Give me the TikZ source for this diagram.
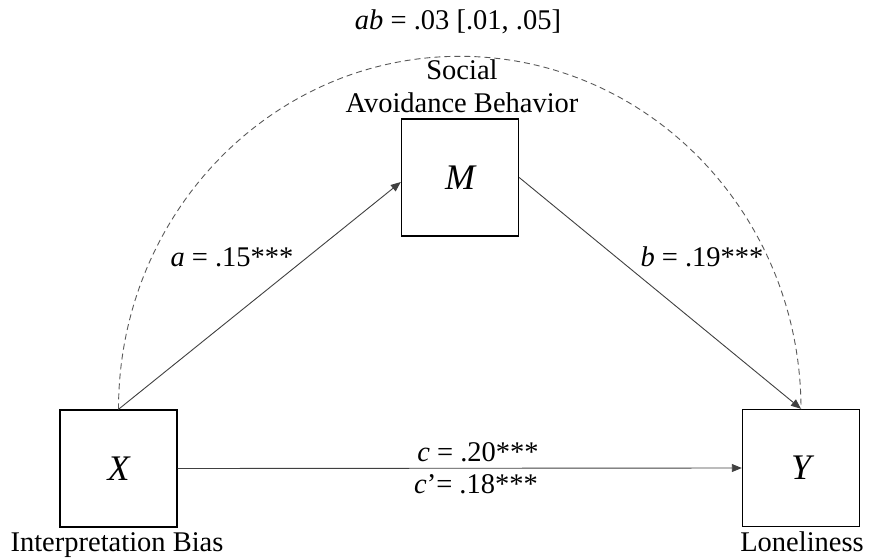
\documentclass[tikz,border=0pt]{standalone}
\usepackage{fontspec}
\setmainfont{Liberation Serif}
\usetikzlibrary{arrows.meta}
\begin{document}
\begin{tikzpicture}[x=1pt,y=-1pt,
  var/.style={draw=black, line width=1.4pt, minimum width=117pt, minimum height=117pt, inner sep=0pt, font=\fontsize{36}{40}\selectfont\itshape},
  lbl/.style={font=\fontsize{28.5}{33}\selectfont, inner sep=0pt, align=center},
  conn/.style={draw=black!75, line width=0.9pt, -{Triangle[length=10pt,width=8pt]}},
  dashline/.style={draw=black!65, line width=0.9pt, dash pattern=on 6pt off 4pt}
]
\useasboundingbox (0,0) rectangle (872,559);
\node[var] (X) at (118.5,468.5) {X};
\node[var] (M) at (460,177.5) {M};
\node[var] (Y) at (801,468) {Y};
\node[lbl] (xl) at (117,545) {Interpretation Bias};
\node[lbl] (yl) at (802,542) {Loneliness};
\node[lbl] (ml) at (462,86) {Social\\Avoidance Behavior};
\node[lbl] (ab) at (458,22) {\textit{ab} = .03 [.01, .05]};
\node[lbl] (la) at (232,257) {\textit{a} = .15***};
\node[lbl] (lb) at (702,257) {\textit{b} = .19***};
\node[lbl] (lc) at (478,452) {\textit{c} = .20***};
\node[lbl] (lcp) at (476,484) {\textit{c}’= .18***};
\draw[dashline] (X.north) arc[start angle=180, end angle=360, x radius=341.25, y radius=353];
\draw[conn] (X.north) -- ([yshift=-4.5pt]M.west);
\draw[conn] (M.east) -- (Y.north);
\draw[conn] (X.east) -- (Y.west);
\end{tikzpicture}
\end{document}
